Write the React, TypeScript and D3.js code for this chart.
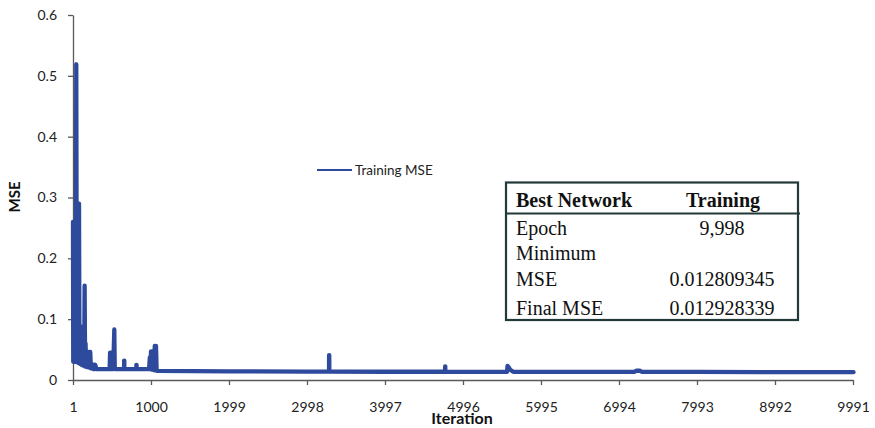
import React, { useEffect, useRef } from "react";
import * as d3 from "d3";

// Training MSE per iteration (sparse points where the curve is flat)
const iterations = [
  1, 4, 8, 12, 16, 20, 24, 28, 32, 36, 43, 50, 54, 58, 62, 66, 70, 74, 78, 84, 90, 96, 102, 108, 114, 120, 126,
  132, 138, 144, 150, 156, 162, 168, 176, 184, 192, 200, 208, 216, 222, 230, 238, 246, 254, 262, 270, 278, 286,
  300, 470, 476, 484, 492, 500, 508, 516, 530, 536, 655, 656, 658, 659, 812, 813, 815, 816, 975, 985, 992, 1000,
  1008, 1016, 1024, 1032, 1040, 1048, 1056, 1064, 1072, 1080, 2000, 3000, 3280, 3281, 3283, 3284, 4000, 4766,
  4767, 4769, 4770, 5560, 5566, 5580, 5600, 5640, 7190, 7215, 7260, 7290, 8000, 9998,
];
const mseValues = [
  0.26, 0.03, 0.25, 0.03, 0.25, 0.03, 0.26, 0.03, 0.25, 0.03, 0.519, 0.03, 0.25, 0.03, 0.26, 0.028, 0.25, 0.028,
  0.29, 0.027, 0.088, 0.026, 0.085, 0.025, 0.07, 0.024, 0.088, 0.024, 0.07, 0.023, 0.155, 0.022, 0.06, 0.022,
  0.046, 0.021, 0.046, 0.021, 0.046, 0.02, 0.046, 0.019, 0.025, 0.019, 0.025, 0.018, 0.025, 0.018, 0.025,
  0.018, 0.018, 0.045, 0.018, 0.045, 0.018, 0.045, 0.018, 0.083, 0.018, 0.018, 0.032, 0.032, 0.018, 0.018,
  0.025, 0.025, 0.018, 0.018, 0.037, 0.018, 0.047, 0.017, 0.047, 0.017, 0.047, 0.016, 0.056, 0.016, 0.056,
  0.016, 0.015, 0.0142, 0.0138, 0.0138, 0.041, 0.041, 0.0137, 0.0136, 0.0136, 0.0225, 0.0225, 0.0135, 0.0134,
  0.023, 0.021, 0.017, 0.0134, 0.0133, 0.0152, 0.0152, 0.0133, 0.0132, 0.01293,
];

const xTickValues = [1, 1000, 1999, 2998, 3997, 4996, 5995, 6994, 7993, 8992, 9991];
const yTickValues = [0, 0.1, 0.2, 0.3, 0.4, 0.5, 0.6];
const seriesName = "Training MSE";
const xTitle = "Iteration";
const yTitle = "MSE";
const tableHeader = ["Best Network", "Training"];
const tableLabels = ["Epoch", "Minimum", "MSE", "Final MSE"];
const tableValues = ["9,998", "", "0.012809345", "0.012928339"];

const W = 875;
const H = 428;
const LINE_COLOR = "#2E4A9C";
const AXIS_COLOR = "#595959";
const SANS = "Lato, 'Open Sans', sans-serif";
const SERIF = "'Liberation Serif', 'Times New Roman', serif";

export default function App() {
  const ref = useRef<SVGSVGElement | null>(null);

  useEffect(() => {
    const svg = d3.select(ref.current);
    svg.selectAll("*").remove();

    const x = d3.scaleLinear().domain([1, 9991]).range([73, 853]);
    const y = d3.scaleLinear().domain([0, 0.6]).range([380, 15]);

    // Y axis
    const yAxis = svg
      .append("g")
      .attr("transform", "translate(73,0)")
      .call(
        d3
          .axisLeft(y)
          .tickValues(yTickValues)
          .tickSize(5)
          .tickSizeOuter(0)
          .tickPadding(11)
          .tickFormat((d) => (+d === 0 ? "0" : d3.format(".1f")(+d)))
      );
    yAxis.select(".domain").attr("stroke", AXIS_COLOR).attr("stroke-width", 1.3);
    yAxis.selectAll(".tick line").attr("stroke", AXIS_COLOR).attr("stroke-width", 1.3);
    yAxis
      .selectAll(".tick text")
      .attr("font-family", SANS)
      .attr("font-size", 14)
      .attr("fill", "#222");

    // X axis
    const xAxis = svg
      .append("g")
      .attr("transform", "translate(0,380)")
      .call(d3.axisBottom(x).tickValues(xTickValues).tickSize(5).tickSizeOuter(0).tickPadding(17).tickFormat(d3.format("d")));
    xAxis.select(".domain").attr("stroke", AXIS_COLOR).attr("stroke-width", 1.3);
    xAxis.selectAll(".tick line").attr("stroke", AXIS_COLOR).attr("stroke-width", 1.3);
    xAxis
      .selectAll(".tick text")
      .attr("font-family", SANS)
      .attr("font-size", 14)
      .attr("fill", "#222");

    // Axis titles
    svg
      .append("text")
      .attr("x", 462)
      .attr("y", 424)
      .attr("text-anchor", "middle")
      .attr("font-family", SANS)
      .attr("font-weight", "bold")
      .attr("font-size", 16)
      .attr("fill", "#111")
      .text(xTitle);
    svg
      .append("text")
      .attr("transform", "translate(19.5,197) rotate(-90)")
      .attr("text-anchor", "middle")
      .attr("font-family", SANS)
      .attr("font-weight", "bold")
      .attr("font-size", 15)
      .attr("fill", "#111")
      .text(yTitle);

    // Series line
    const line = d3
      .line<number>()
      .x((_, i) => x(iterations[i]))
      .y((d) => y(d));
    svg
      .append("path")
      .datum(mseValues)
      .attr("d", line)
      .attr("fill", "none")
      .attr("stroke", LINE_COLOR)
      .attr("stroke-width", 4.3)
      .attr("stroke-linejoin", "round")
      .attr("stroke-linecap", "round");

    // Legend
    const lg = svg.append("g");
    lg.append("line")
      .attr("x1", 317)
      .attr("x2", 352)
      .attr("y1", 170)
      .attr("y2", 170)
      .attr("stroke", LINE_COLOR)
      .attr("stroke-width", 2);
    lg.append("text")
      .attr("x", 355)
      .attr("y", 174.5)
      .attr("font-family", SANS)
      .attr("font-size", 13.5)
      .attr("fill", "#222")
      .text(seriesName);

    // Table
    const tb = svg.append("g");
    const tl = 506,
      tr = 798,
      tt = 182.5,
      tbm = 320;
    tb.append("rect")
      .attr("x", tl)
      .attr("y", tt)
      .attr("width", tr - tl)
      .attr("height", tbm - tt)
      .attr("fill", "#fff")
      .attr("stroke", "#22393a")
      .attr("stroke-width", 2.2);
    tb.append("line")
      .attr("x1", tl)
      .attr("x2", tr + 2)
      .attr("y1", 213.5)
      .attr("y2", 213.5)
      .attr("stroke", "#22393a")
      .attr("stroke-width", 2);
    tb.append("text")
      .attr("x", 516)
      .attr("y", 207)
      .attr("font-family", SERIF)
      .attr("font-weight", "bold")
      .attr("font-size", 20)
      .attr("fill", "#111")
      .text(tableHeader[0]);
    tb.append("text")
      .attr("x", 723)
      .attr("y", 207)
      .attr("text-anchor", "middle")
      .attr("font-family", SERIF)
      .attr("font-weight", "bold")
      .attr("font-size", 20)
      .attr("fill", "#111")
      .text(tableHeader[1]);
    const rowBase = [235, 260, 286, 315];
    tableLabels.forEach((lab, i) => {
      tb.append("text")
        .attr("x", 516)
        .attr("y", rowBase[i])
        .attr("font-family", SERIF)
        .attr("font-size", 20)
        .attr("fill", "#111")
        .text(lab);
      if (tableValues[i]) {
        tb.append("text")
          .attr("x", 722)
          .attr("y", rowBase[i])
          .attr("text-anchor", "middle")
          .attr("font-family", SERIF)
          .attr("font-size", 20)
          .attr("fill", "#111")
          .text(tableValues[i]);
      }
    });
  }, []);

  return (
    <svg
      ref={ref}
      width={W}
      height={H}
      style={{ position: "absolute", left: 0, top: 0, background: "#fff", display: "block" }}
    />
  );
}
